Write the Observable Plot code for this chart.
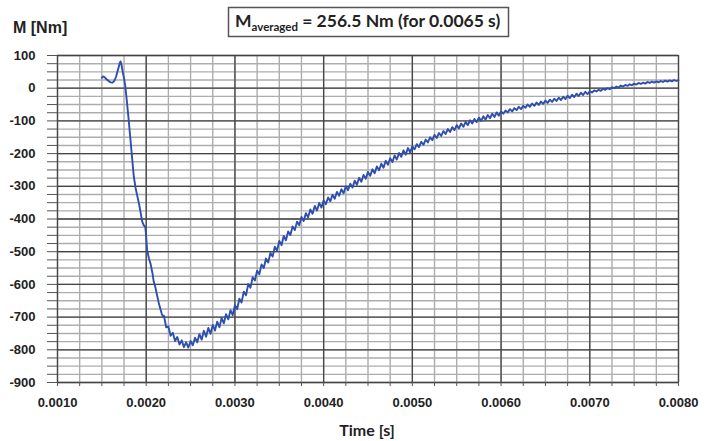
<!DOCTYPE html>
<html><head><meta charset="utf-8">
<script src="https://cdn.jsdelivr.net/npm/d3@7"></script>
<script src="https://cdn.jsdelivr.net/npm/@observablehq/plot@0.6"></script>
<style>body{margin:0;background:#fff}</style>
</head><body><div id="chart"></div>
<script>
// time in milliseconds
const timeMs = [
1.500,1.515,1.530,1.550,1.580,1.600,1.620,1.640,1.660,1.680,1.700,1.710,1.720,1.735,1.750,1.765,1.780,1.800,1.820,1.840,
1.860,1.880,1.900,1.920,1.940,1.955,1.970,1.990,2.000,2.010,2.030,2.050,2.070,2.085,2.100,2.120,2.140,2.160,2.175,2.190,
2.200,2.225,2.250,2.275,2.300,2.325,2.350,2.375,2.400,2.425,2.450,2.475,2.500,2.525,2.550,2.575,
2.600,2.625,2.650,2.675,2.700,2.725,2.750,2.775,2.800,2.825,2.850,2.875,2.900,2.925,2.950,2.975,
3.000,3.025,3.050,3.075,3.100,3.125,3.150,3.175,3.200,3.225,3.250,3.275,3.300,3.325,3.350,3.375,
3.400,3.425,3.450,3.475,3.500,3.525,3.550,3.575,3.600,3.625,3.650,3.675,3.700,3.725,3.750,3.775,
3.800,3.825,3.850,3.875,3.900,3.925,3.950,3.975,4.000,4.025,4.050,4.075,4.100,4.125,4.150,4.175,
4.200,4.225,4.250,4.275,4.300,4.325,4.350,4.375,4.400,4.425,4.450,4.475,4.500,4.525,4.550,4.575,
4.600,4.625,4.650,4.675,4.700,4.725,4.750,4.775,4.800,4.825,4.850,4.875,4.900,4.925,4.950,4.975,
5.000,5.025,5.050,5.075,5.100,5.125,5.150,5.175,5.200,5.225,5.250,5.275,5.300,5.325,5.350,5.375,
5.400,5.425,5.450,5.475,5.500,5.525,5.550,5.575,5.600,5.625,5.650,5.675,5.700,5.725,5.750,5.775,
5.800,5.825,5.850,5.875,5.900,5.925,5.950,5.975,6.000,6.025,6.050,6.075,6.100,6.125,6.150,6.175,
6.200,6.225,6.250,6.275,6.300,6.325,6.350,6.375,6.400,6.425,6.450,6.475,6.500,6.525,6.550,6.575,
6.600,6.625,6.650,6.675,6.700,6.725,6.750,6.775,6.800,6.825,6.850,6.875,6.900,6.925,6.950,6.975,
7.000,7.025,7.050,7.075,7.100,7.125,7.150,7.175,7.200,7.225,7.250,7.275,7.300,7.325,7.350,7.375,
7.400,7.425,7.450,7.475,7.500,7.525,7.550,7.575,7.600,7.625,7.650,7.675,7.700,7.725,7.750,7.775,
7.800,7.825,7.850,7.875,7.900,7.925,7.950,7.975,8.000
];
// torque M in Nm
const torque = [
32,36,34,28,21,18,17,22,35,55,75,82,74,50,30,5,-35,-90,-150,-210,
-270,-305,-330,-355,-385,-408,-418,-425,-455,-495,-520,-538,-565,-592,-605,-630,-655,-675,-690,-698,
-696,-731,-729,-757,-748,-773,-761,-784,-771,-792,-777,-793,-773,-786,-763,-777,
-752,-769,-742,-760,-733,-751,-724,-741,-714,-731,-703,-719,-691,-707,-679,-694,
-664,-676,-644,-655,-622,-633,-599,-610,-578,-588,-558,-569,-539,-550,-521,-533,
-504,-515,-485,-496,-467,-480,-452,-465,-438,-449,-423,-434,-408,-419,-394,-406,
-382,-395,-371,-384,-360,-374,-351,-365,-343,-355,-334,-346,-326,-338,-317,-329,
-309,-321,-300,-312,-292,-304,-283,-295,-274,-286,-265,-277,-256,-268,-248,-260,
-239,-251,-231,-243,-222,-234,-214,-226,-206,-218,-198,-210,-190,-203,-183,-196,
-178,-187,-171,-180,-164,-173,-157,-166,-150,-159,-143,-152,-137,-146,-131,-140,
-125,-134,-119,-128,-113,-123,-108,-118,-103,-113,-98,-108,-94,-104,-90,-100,
-86,-96,-82,-92,-78,-88,-74,-84,-71,-78,-68,-74,-64,-71,-61,-67,
-57,-64,-54,-60,-50,-57,-47,-54,-44,-51,-41,-48,-38,-45,-35,-42,
-32,-39,-29,-36,-26,-33,-23,-30,-20,-27,-17,-24,-14,-21,-11,-18,
-10,-13,-7,-10,-5,-8,-2,-5,0,-3,3,0,5,2,8,5,
10,7,12,9,14,11,16,13,17,14,19,16,20,17,21,18,
22,19,23,20,24,21,25,22,25
];
const xTicks = [0.001,0.002,0.003,0.004,0.005,0.006,0.007,0.008];
const yTicks = [100,0,-100,-200,-300,-400,-500,-600,-700,-800,-900];
const titleMain = "M";
const titleSub = "averaged";
const titleRest = " = 256.5 Nm (for 0.0065 s)";
const yLabel = "M [Nm]";
const xLabel = "Time [s]";

const data = timeMs.map((t, i) => ({t: t / 1000, m: torque[i]}));
const minorX = d3.range(4, 33).map(i => i * 0.00025);
const minorY = d3.range(-36, 5).map(i => i * 25);
const isMajorX = d => Math.abs(d * 1000 - Math.round(d * 1000)) < 1e-6;
const fmtX = d3.format(".4f");

const plot = Plot.plot({
  width: 713, height: 441,
  marginLeft: 57, marginRight: 35, marginTop: 55, marginBottom: 59,
  style: {background: "#fff", fontFamily: "'Liberation Sans', Arial, sans-serif", color: "#222"},
  x: {domain: [0.001, 0.008]},
  y: {domain: [-900, 100]},
  marks: [
    Plot.ruleX(minorX, {stroke: "#adadad", strokeWidth: 1.4}),
    Plot.ruleY(minorY, {stroke: "#adadad", strokeWidth: 1.4}),
    Plot.ruleX(xTicks, {stroke: "#444", strokeWidth: 1.3}),
    Plot.ruleY(yTicks, {stroke: "#444", strokeWidth: 1.3}),
    Plot.axisX({ticks: minorX, tickSize: 4, tickPadding: 11, label: null,
      tickFormat: d => isMajorX(d) ? fmtX(d) : "", fontSize: 13, fontWeight: "bold", stroke: "#555"}),
    Plot.axisY({ticks: minorY, tickSize: 10, tickPadding: 12, label: null,
      tickFormat: d => (d % 100 === 0) ? String(d) : "", fontSize: 13, fontWeight: "bold", stroke: "#555"}),
    Plot.line(data, {x: "t", y: "m", stroke: "#2f4fae", strokeWidth: 1.9})
  ]
});
document.getElementById("chart").appendChild(plot);

const svg = d3.select(plot);
svg.append("text").attr("x", 13).attr("y", 33).attr("text-anchor", "start")
  .attr("font-family", "'Liberation Sans', Arial, sans-serif").attr("font-weight", "bold")
  .attr("font-size", 16).attr("fill", "#222").text(yLabel);
svg.append("text").attr("x", 367).attr("y", 436).attr("text-anchor", "middle")
  .attr("font-family", "Lato, 'Open Sans', sans-serif").attr("font-weight", "bold")
  .attr("font-size", 16).attr("fill", "#222").text(xLabel);
svg.append("rect").attr("x", 228.5).attr("y", 7.5).attr("width", 280).attr("height", 29)
  .attr("fill", "#fff").attr("stroke", "#555").attr("stroke-width", 1.5);
const tt = svg.append("text").attr("x", 235).attr("y", 27).attr("text-anchor", "start")
  .attr("font-family", "Lato, 'Open Sans', sans-serif").attr("font-weight", "bold")
  .attr("font-size", 17.5).attr("fill", "#222");
tt.append("tspan").text(titleMain);
tt.append("tspan").attr("font-size", 11.5).attr("dy", 4).text(titleSub);
tt.append("tspan").attr("dy", -4).text(titleRest);
</script>
</body></html>
